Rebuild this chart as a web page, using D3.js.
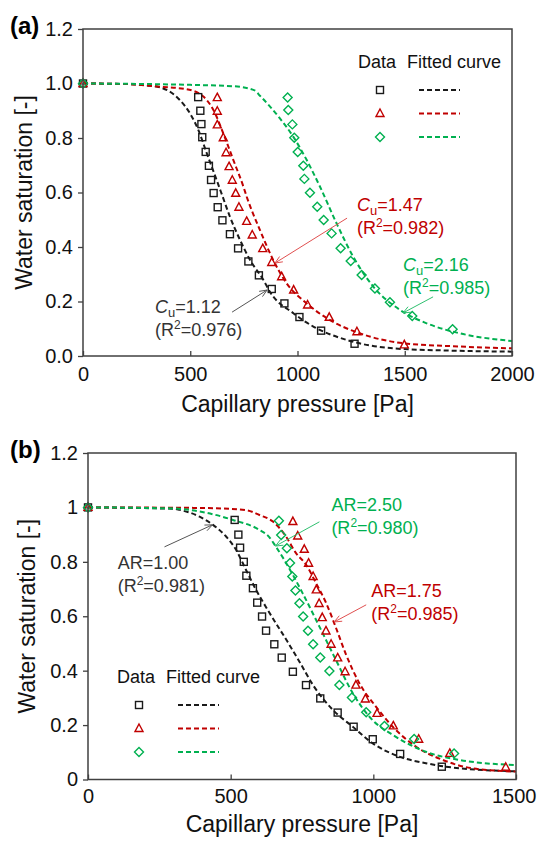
<!DOCTYPE html>
<html>
<head>
<meta charset="utf-8">
<script src="https://cdn.jsdelivr.net/npm/d3@7"></script>
<style>
  body { margin: 0; background: #fff; }
  svg { font-family: "Liberation Sans", Arial, sans-serif; }
</style>
</head>
<body>
<div id="chart"></div>
<script>
// ---- panel (a) data : uniformity coefficient Cu ----
var aBlackP = [0, 537, 547, 552, 556, 572, 587, 597, 609, 628, 650, 685, 723, 771, 820, 880, 939, 1009, 1110, 1266];
var aBlackS = [1, 0.95, 0.90, 0.851, 0.803, 0.749, 0.698, 0.646, 0.598, 0.546, 0.498, 0.447, 0.395, 0.347, 0.296, 0.246, 0.193, 0.143, 0.093, 0.045];
var aRedP = [0, 626, 626, 626, 654, 667, 681, 696, 712, 727, 763, 789, 838, 880, 926, 982, 1047, 1148, 1277, 1498];
var aRedS = [1, 0.948, 0.898, 0.848, 0.801, 0.746, 0.695, 0.645, 0.597, 0.546, 0.494, 0.444, 0.394, 0.343, 0.291, 0.242, 0.187, 0.142, 0.089, 0.041];
var aGreenP = [0, 954, 957, 976, 985, 1001, 1027, 1032, 1058, 1092, 1122, 1159, 1201, 1248, 1299, 1361, 1431, 1535, 1723];
var aGreenS = [1, 0.949, 0.903, 0.85, 0.801, 0.749, 0.698, 0.65, 0.599, 0.548, 0.499, 0.45, 0.395, 0.349, 0.297, 0.248, 0.197, 0.147, 0.098];
// fitted curves
var aBlackFitP = [0, 200, 300, 359, 452, 499, 538, 577, 623, 651, 685, 732, 779, 841, 872, 981, 1074, 1229, 1447, 1700, 2000];
var aBlackFitS = [1, 0.998, 0.993, 0.986, 0.939, 0.89, 0.829, 0.744, 0.646, 0.585, 0.511, 0.426, 0.352, 0.279, 0.235, 0.157, 0.108, 0.059, 0.028, 0.02, 0.016];
var aRedFitP = [0, 200, 359, 483, 561, 608, 654, 701, 748, 763, 825, 887, 949, 1043, 1151, 1291, 1493, 1750, 2000];
var aRedFitS = [1, 0.998, 0.988, 0.979, 0.952, 0.903, 0.817, 0.719, 0.621, 0.585, 0.462, 0.352, 0.267, 0.193, 0.132, 0.083, 0.047, 0.035, 0.028];
var aGreenFitP = [0, 500, 700, 800, 825, 872, 918, 980, 1043, 1105, 1182, 1260, 1354, 1478, 1602, 1758, 2000];
var aGreenFitS = [1, 0.995, 0.99, 0.975, 0.955, 0.915, 0.872, 0.805, 0.719, 0.621, 0.487, 0.364, 0.254, 0.169, 0.12, 0.083, 0.055];
var aXTicks = [0, 500, 1000, 1500, 2000];
var aYTicks = [0, 0.2, 0.4, 0.6, 0.8, 1.0, 1.2];

// ---- panel (b) data : aspect ratio AR ----
var bBlackP = [0, 514, 527, 533, 546, 555, 578, 593, 610, 624, 653, 679, 718, 764, 814, 875, 931, 998, 1094, 1240];
var bBlackS = [1, 0.954, 0.90, 0.852, 0.80, 0.749, 0.703, 0.65, 0.599, 0.547, 0.497, 0.448, 0.396, 0.347, 0.298, 0.246, 0.194, 0.148, 0.094, 0.047];
var bRedP = [0, 718, 735, 758, 773, 789, 800, 810, 821, 834, 852, 875, 901, 939, 972, 1013, 1070, 1159, 1268, 1464];
var bRedS = [1, 0.948, 0.895, 0.846, 0.795, 0.746, 0.697, 0.647, 0.595, 0.546, 0.497, 0.447, 0.396, 0.347, 0.296, 0.243, 0.197, 0.148, 0.096, 0.045];
var bGreenP = [0, 669, 677, 697, 708, 716, 727, 741, 754, 771, 789, 814, 846, 881, 925, 975, 1039, 1143, 1283];
var bGreenS = [1, 0.951, 0.899, 0.85, 0.796, 0.746, 0.695, 0.648, 0.599, 0.547, 0.497, 0.448, 0.399, 0.347, 0.301, 0.247, 0.197, 0.149, 0.096];
var bBlackFitP = [0, 300, 321, 391, 438, 484, 519, 554, 589, 630, 700, 740, 790, 858, 928, 998, 1091, 1184, 1254, 1500];
var bBlackFitS = [1, 0.995, 0.991, 0.966, 0.936, 0.893, 0.844, 0.77, 0.697, 0.623, 0.505, 0.435, 0.345, 0.256, 0.194, 0.133, 0.084, 0.06, 0.047, 0.03];
var bRedFitP = [0, 400, 554, 601, 648, 694, 729, 764, 800, 834, 870, 904, 951, 1009, 1068, 1149, 1243, 1348, 1500];
var bRedFitS = [1, 0.998, 0.99, 0.972, 0.948, 0.893, 0.832, 0.79, 0.72, 0.65, 0.555, 0.46, 0.354, 0.268, 0.194, 0.121, 0.072, 0.041, 0.029];
var bGreenFitP = [0, 300, 391, 508, 601, 636, 657, 688, 752, 811, 869, 928, 986, 1079, 1184, 1301, 1500];
var bGreenFitS = [1, 0.996, 0.985, 0.954, 0.917, 0.89, 0.858, 0.807, 0.685, 0.562, 0.439, 0.317, 0.231, 0.157, 0.102, 0.072, 0.053];
var bXTicks = [0, 500, 1000, 1500];
var bYTicks = [0, 0.2, 0.4, 0.6, 0.8, 1, 1.2];

var black = "#1a1a1a", red = "#c00000", green = "#00b050";

var svg = d3.select("#chart").append("svg").attr("width", 537).attr("height", 845);

function zip(p, s) {
	return p.map(function(d, i) { return [d, s[i]]; });
}

function marker(g, type, color, x, y) {
	if (type == "square") {
		g.append("rect").attr("x", x - 3.5).attr("y", y - 3.5).attr("width", 7).attr("height", 7)
			.attr("fill", "none").attr("stroke", color).attr("stroke-width", 1.4);
	} else if (type == "triangle") {
		g.append("path").attr("d", "M" + x + "," + (y - 4.5) + "L" + (x + 4) + "," + (y + 3) + "L" + (x - 4) + "," + (y + 3) + "Z")
			.attr("fill", "none").attr("stroke", color).attr("stroke-width", 1.4);
	} else {
		g.append("path").attr("d", "M" + x + "," + (y - 4.5) + "L" + (x + 4.5) + "," + y + "L" + x + "," + (y + 4.5) + "L" + (x - 4.5) + "," + y + "Z")
			.attr("fill", "none").attr("stroke", color).attr("stroke-width", 1.4);
	}
}

function drawPanel(cfg) {
	var x = d3.scaleLinear().domain([0, cfg.xmax]).range([cfg.left, cfg.right]);
	var y = d3.scaleLinear().domain([0, 1.2]).range([cfg.bottom, cfg.top]);
	var g = svg.append("g");

	// axes
	var xa = g.append("g").attr("transform", "translate(0," + cfg.bottom + ")")
		.call(d3.axisBottom(x).tickValues(cfg.xticks).tickSize(-5).tickPadding(cfg.xpad).tickFormat(d3.format("d")));
	var ya = g.append("g").attr("transform", "translate(" + cfg.left + ",0)")
		.call(d3.axisLeft(y).tickValues(cfg.yticks).tickSize(5).tickPadding(5).tickFormat(cfg.yfmt));
	[xa, ya].forEach(function(a) {
		a.select(".domain").remove();
		a.selectAll("line").attr("stroke", "#404040").attr("stroke-width", 1.3);
		a.selectAll("text").attr("font-size", 20).attr("fill", "#111").attr("font-family", "Liberation Sans, Arial, sans-serif");
	});
	// keep the last x label inside the page
	xa.selectAll(".tick text").filter(function(d) { return x(d) + 23 > 537; })
		.attr("text-anchor", "end").attr("x", function(d) { return 536 - x(d); });

	var line = d3.line().x(function(d) { return x(d[0]); }).y(function(d) { return y(d[1]); }).curve(d3.curveMonotoneX);

	// fitted curves
	cfg.fits.forEach(function(f) {
		g.append("path").datum(zip(f.p, f.s)).attr("d", line)
			.attr("fill", "none").attr("stroke", f.color).attr("stroke-width", 2).attr("stroke-dasharray", "5,3");
	});
	// data
	cfg.series.forEach(function(sr) {
		zip(sr.p, sr.s).forEach(function(d) {
			marker(g, sr.type, sr.color, x(d[0]), y(d[1]));
		});
	});

	// frame
	g.append("rect").attr("x", cfg.left).attr("y", cfg.top)
		.attr("width", cfg.right - cfg.left).attr("height", cfg.bottom - cfg.top)
		.attr("fill", "none").attr("stroke", "#404040").attr("stroke-width", 1.5);

	// labels
	g.append("text").attr("x", 10).attr("y", cfg.top + 5).attr("font-size", 24).attr("font-weight", "bold").text(cfg.tag);
	g.append("text").attr("transform", "translate(" + cfg.ylx + "," + (cfg.top + cfg.bottom) / 2 + ") rotate(-90)")
		.attr("text-anchor", "middle").attr("font-size", 23).attr("fill", "#111").text("Water saturation [-]");
	g.append("text").attr("x", (cfg.left + cfg.right) / 2).attr("y", cfg.xly)
		.attr("text-anchor", "middle").attr("font-size", 23).attr("fill", "#111").text("Capillary pressure [Pa]");

	// legend
	var L = cfg.legend;
	g.append("text").attr("x", L.x).attr("y", L.y).attr("font-size", 18).attr("fill", "#111").text("Data");
	g.append("text").attr("x", L.x + 49).attr("y", L.y).attr("font-size", 18).attr("fill", "#111").text("Fitted curve");
	cfg.series.forEach(function(sr, i) {
		var yy = L.y + 22 + i * 23.5;
		marker(g, sr.type, sr.color, L.x + 22, yy);
		g.append("line").attr("x1", L.x + 61).attr("x2", L.x + 102).attr("y1", yy).attr("y2", yy)
			.attr("stroke", sr.color).attr("stroke-width", 2).attr("stroke-dasharray", "5,3");
	});

	// annotations
	cfg.notes.forEach(function(n) {
		var t1 = g.append("text").attr("x", x(n.tx)).attr("y", y(n.ty)).attr("font-size", 18).attr("fill", n.color);
		if (n.sym == "Cu") {
			t1.append("tspan").attr("font-style", "italic").text("C");
			t1.append("tspan").attr("font-size", 13).attr("dy", 4).text("u");
			t1.append("tspan").attr("dy", -4).text("=" + n.val);
		} else {
			t1.text("AR=" + n.val);
		}
		var t2 = g.append("text").attr("x", x(n.tx)).attr("y", y(n.ty) + 23).attr("font-size", 18).attr("fill", n.color);
		t2.append("tspan").text("(R");
		t2.append("tspan").attr("font-size", 12).attr("dy", -7).text("2");
		t2.append("tspan").attr("dy", 7).text("=" + n.r2 + ")");

		var x1 = x(n.a[0]), y1 = y(n.a[1]), x2 = x(n.b[0]), y2 = y(n.b[1]);
		var ang = Math.atan2(y2 - y1, x2 - x1);
		g.append("line").attr("x1", x1).attr("y1", y1).attr("x2", x2).attr("y2", y2)
			.attr("stroke", n.arrow).attr("stroke-width", 1);
		var h = 8, w = 0.4;
		g.append("path").attr("d", "M" + (x2 - h * Math.cos(ang - w)) + "," + (y2 - h * Math.sin(ang - w)) +
			"L" + x2 + "," + y2 + "L" + (x2 - h * Math.cos(ang + w)) + "," + (y2 - h * Math.sin(ang + w)))
			.attr("fill", "none").attr("stroke", n.arrow).attr("stroke-width", 1);
	});
}

drawPanel({
	tag: "(a)", xmax: 2000, left: 83, right: 512, top: 29, bottom: 356,
	xticks: aXTicks, yticks: aYTicks, yfmt: d3.format(".1f"), xpad: 11, ylx: 32, xly: 412,
	fits: [
		{p: aBlackFitP, s: aBlackFitS, color: black},
		{p: aRedFitP, s: aRedFitS, color: red},
		{p: aGreenFitP, s: aGreenFitS, color: green}
	],
	series: [
		{p: aBlackP, s: aBlackS, color: black, type: "square"},
		{p: aRedP, s: aRedS, color: red, type: "triangle"},
		{p: aGreenP, s: aGreenS, color: green, type: "diamond"}
	],
	legend: {x: 358, y: 68},
	notes: [
		{sym: "Cu", val: "1.12", r2: "0.976", color: "#333", arrow: "#555", tx: 336, ty: 0.158, a: [695, 0.161], b: [858, 0.242]},
		{sym: "Cu", val: "1.47", r2: "0.982", color: red, arrow: "#e05050", tx: 1277, ty: 0.532, a: [1231, 0.506], b: [895, 0.341]},
		{sym: "Cu", val: "2.16", r2: "0.985", color: green, arrow: "#30c070", tx: 1492, ty: 0.312, a: [1632, 0.217], b: [1492, 0.158]}
	]
});

drawPanel({
	tag: "(b)", xmax: 1500, left: 88, right: 516, top: 453, bottom: 779.5,
	xticks: bXTicks, yticks: bYTicks, yfmt: d3.format(""), xpad: 9, ylx: 35, xly: 832,
	fits: [
		{p: bBlackFitP, s: bBlackFitS, color: black},
		{p: bRedFitP, s: bRedFitS, color: red},
		{p: bGreenFitP, s: bGreenFitS, color: green}
	],
	series: [
		{p: bBlackP, s: bBlackS, color: black, type: "square"},
		{p: bRedP, s: bRedS, color: red, type: "triangle"},
		{p: bGreenP, s: bGreenS, color: green, type: "diamond"}
	],
	legend: {x: 117, y: 683},
	notes: [
		{sym: "AR", val: "1.00", r2: "0.981", color: "#333", arrow: "#555", tx: 104, ty: 0.774, a: [268, 0.855], b: [436, 0.936]},
		{sym: "AR", val: "2.50", r2: "0.980", color: green, arrow: "#30c070", tx: 853, ty: 0.987, a: [811, 0.947], b: [657, 0.858]},
		{sym: "AR", val: "1.75", r2: "0.985", color: red, arrow: "#e05050", tx: 993, ty: 0.671, a: [975, 0.642], b: [863, 0.579]}
	]
});
</script>
</body>
</html>
